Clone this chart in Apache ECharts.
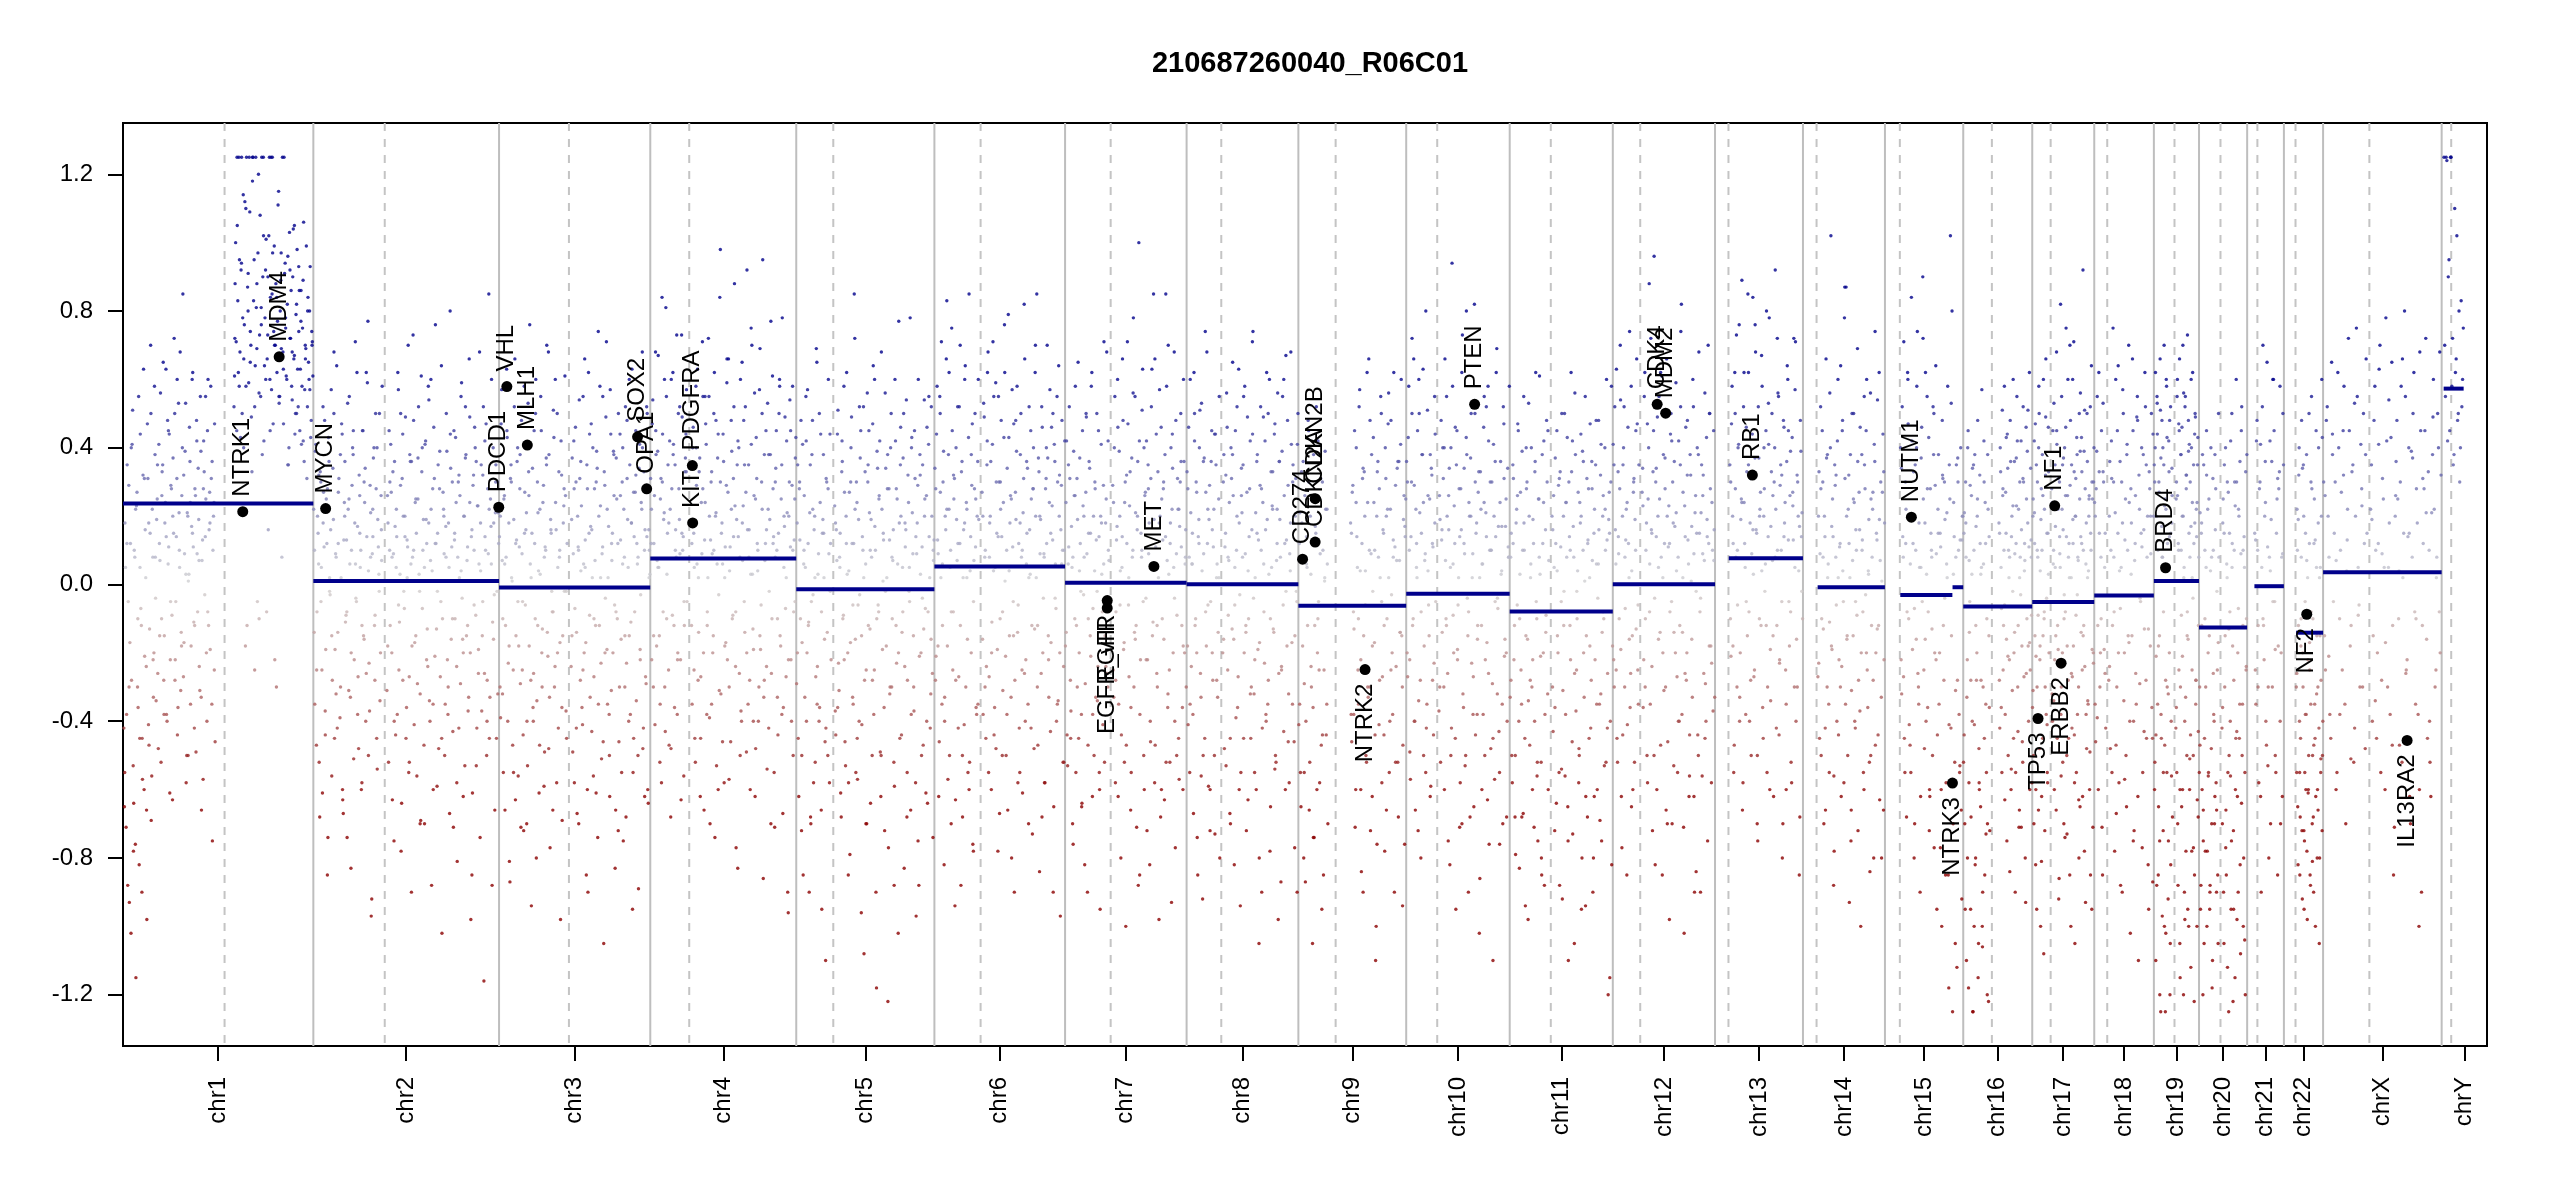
<!DOCTYPE html>
<html>
<head>
<meta charset="utf-8">
<title>210687260040_R06C01</title>
<script src="https://cdn.jsdelivr.net/npm/echarts@6.0.0/dist/echarts.min.js"></script>
<style>
html, body { margin: 0; padding: 0; background: #fff; }
#chart { width: 2550px; height: 1200px; }
</style>
</head>
<body>
<div id="chart"></div>
<script>
// chromosomes (hg19), lengths in Mb
const chromNames = ['chr1','chr2','chr3','chr4','chr5','chr6','chr7','chr8','chr9','chr10','chr11','chr12',
  'chr13','chr14','chr15','chr16','chr17','chr18','chr19','chr20','chr21','chr22','chrX','chrY'];
const chromLengths = [249.250621,243.199373,198.02243,191.154276,180.91526,171.115067,159.138663,146.364022,
  141.213431,135.534747,135.006516,133.851895,115.169878,107.34954,102.531392,90.354753,81.19521,78.077248,
  59.128983,63.02552,48.129895,51.304566,155.27056,59.373566];
// p/q split drawn as dashed line (Mb)
const centromeres = [133,93.5,91.5,51,48.5,60.5,59.7,45.4,48.8,40.6,53.8,35.9,17.6,17.8,19.5,37.5,24.1,17,27,28.1,13.4,15.2,60.6,12.5];

// bin log2 ratios, per chromosome arm (three interleaved runs, genomic order)
const r1p = [-.42,.18,-.71,.35,-.05,-.93,.12,-.28,.51,-.64,.08,-1.15,.27,-.36,-.82,.44,-.12,-.57,.63,-.21,.02,-.98,.31,-.47,.15,-.69,.22,-.33,.58,-.04,
  .19,-.26,.41,.07,-.52,.33,.65,-.15,.24,-.38,.48,.11,-.61,.29,-.09,.37,.72,-.22,.14,-.44,.53,.05,-.31,.26,.85,-.17,.39,-.58,.21,.01,
  .46,-.35,.17,.62,-.11,.28,-.49,.09,.34,-.24,.55,-.66,.13,.42,-.03,.25,-.4,.6,.16,-.19,.31,-.75,.2,.47];
const r1pB = [-.65,.05,-.38,-.88,.29,-.17,-1.02,.41,-.53,.1,-.76,.23,-.3,.55,-.45,-.07,-.9,.32,-.6,.16,-.24,.47,-.41,-.13,.7,-.56,.08,-.2,.38,-.34,
  .25,-.48,.12,.56,-.1,.35,-.28,.18,.63,-.4,.06,.44,-.22,.28,-.63,.15,.5,-.05,.31,-.36,.21,.68,-.14,.4,-.27,.09,.53,-.5,.2,.03,
  .36,-.18,.6,.11,-.42,.26,.48,-.08,.19,-.31,.39,.07,-.57,.33,.14,-.2,.45,-.12,.27,.58,-.35,.1,.24,-.46];
const r1pC = [-.55,.12,-.3,.4,-.78,.22,-.1,.05,-.45,.31,-.66,.18,.5,-.22,.08,.35,-.15,.26,-.38,.14,
  .45,-.05,.2,-.28,.6,.1,-.18,.32,.03,-.5,.24,.15,-.12,.42,.07,-.33,.28,.55,-.08,.18,.36,-.25];
const r1q = [.52,.88,.71,1.05,.62,.95,.43,1.25,.78,.66,1.12,.58,-.12,.91,1.25,.74,.49,1.18,.83,-.25,
  1.25,.69,.97,.56,1.08,.81,.38,1.25,.64,.92,-.08,.73,1.02,.6,1.25,.85,.47,.99,.7,-.3,
  .77,1.15,.55,.89,.08,.68,1.25,.94,.61,.82,.35,1.03,.72,.58,.9,.66,.44,.79,.98,.52,
  .86,.63,.41,.75,1.06,.57,.69,.31,.84,.6,.93,.48,.71];
const r1qB = [.61,1.0,.45,.83,1.25,.68,.92,.5,1.14,.76,-.18,1.25,.87,.59,1.09,.7,.33,1.25,.95,.64,
  .81,-.05,1.2,.73,.55,1.25,.9,.42,.78,1.01,.66,.16,1.25,.84,.57,.97,.74,-.22,.88,.62,
  1.11,.53,.8,.69,1.25,.47,.91,.75,.6,.96,.4,.72,.86,.54,1.04,.67,.5,.82,.63,.93,
  .45,.77,.58,.89,.36,.7,.99,.52,.65,.8,.43,.74,.61];
const r1qC = [.72,1.25,.58,.94,.4,1.1,.8,.65,1.25,.52,.88,-.1,.76,1.02,.6,.9,.45,1.25,.7,.84,
  .55,.97,.63,.78,.35,.92,.68,1.05,.5,.74,.86,.42,.66,.8,.57,.7];
const r2p = [.22,-.35,.41,-.08,.15,-.52,.33,.05,-.61,.27,.48,-.19,.12,-.74,.36,-.03,.57,-.28,.19,-.45,
  .09,.64,-.14,.31,-.39,.02,.44,-.67,.24,-.11,.13,.53,-.31,.06,-.83,.29,.38,-.22,.71,-.05,
  .17,-.48,.26,.1,-.58,.45,-.16,.34,-.26,.59,.04,-.37,.21,-.92,.14,.4,-.09,.28,-.54,.11,.5,-.2,.07];
const r2pB = [-.14,.39,-.47,.2,.06,-.68,.3,-.25,.52,.11,-.37,.25,-.85,.43,-.02,.16,-.56,.34,.68,-.19,
  .08,-.42,.27,.01,-.3,.47,-.63,.13,.36,-.09,-.74,.22,.55,-.33,.1,.4,-.51,.18,-.04,.62,
  -.27,.32,.05,-.6,.45,-.15,.24,-.4,.14,.77,-.23,.29,-.97,.09,.37,-.12,.5,-.45,.19,.03,-.34,.26,.58];
const r2pC = [.1,-.25,.32,-.05,.18,-.44,.28,.02,-.15,.5,-.32,.12,.38,-.6,.2,-.08,.25,-.2,.45,.06,
  -.38,.15,-.12,.3,.62,-.5,.08,.22,-.28,.4,-.02,.16];
const r2q = [-.31,.18,.45,-.12,.27,-.63,.09,.36,-.44,.14,.62,-.25,.03,-.78,.31,.2,-.07,.49,-.36,.11,
  -.55,.38,.06,-.18,.73,-.41,.24,.15,-.29,.52,-.02,-.69,.33,.1,-.47,.41,.19,-.13,.58,-.34,
  .07,-.88,.28,.46,-.21,.12,-.59,.35,.01,-.27,.64,-.1,.22,-.5,.17,.39,-.38,.05,.8,-.16,
  .3,-.71,.13,.43,-.24,.08,-.42,.26,.55,-.04,-.62,.2,.37,-.15,.11,-.33,.49,-.98,.16,.29,
  -.06,.4,-.53,.23,-.19,.68,.04,-.37,.32,-1.16,.14,.47,-.28,.09,-.45,.25,.6,-.11,.18,-.66,.35,-.02,.21];
const r2qB = [.26,-.52,.1,.41,-.2,.33,-.75,.17,.05,-.38,.57,-.11,.29,-.64,.44,-.02,.2,-.45,.13,.7,
  -.27,.36,-.9,.08,.48,-.17,.25,-.56,.37,.03,-.32,.61,-.07,.19,-.7,.42,.12,-.24,.54,-.4,
  .22,.04,-.6,.31,.76,-.13,.15,-.48,.39,-.05,-1.02,.27,.09,-.35,.5,-.22,.18,-.67,.34,.11,
  -.43,.45,-.1,.24,-.81,.3,.02,-.29,.59,-.16,.2,-.53,.38,.07,-.37,.66,-.2,.14,-.61,.32,
  .46,-.09,-.42,.23,.06,-.74,.35,-.15,.52,-.26,.1,-.5,.28,.85,-.33,.17,-.88,.4,-.03,.21,-.45,.3,.12];
const r2qC = [-.18,.3,.08,-.4,.22,-.06,.5,-.28,.14,.02,-.52,.36,.1,-.15,.25,-.7,.4,.05,-.22,.18,
  .6,-.35,.12,-.02,.28,-.45,.2,.08,-.3,.44,-.1,.15,-.58,.32,.04,-.2,.52,-.12,.24,-.85,
  .1,.36,-.26,.18,-.05,.42,-.4,.22,.06,-.16,.3,-.32];
const r3p = [.14,-.39,.57,-.1,.25,-.66,.08,.43,-.23,-.81,.31,.02,-.47,.19,.66,-.15,.36,-.56,.11,-.29,
  .48,-.05,-.72,.27,.16,-.4,.53,-.18,.06,-.94,.34,-.26,.12,.6,-.34,.21,-.61,.03,.45,-.13,
  .29,-.49,.1,.7,-.21,.38,-.77,.15,-.08,.51,-.3,.24,-.58,.05,.33,-.17,.42,-.69,.18,-.02,.26,-.45];
const r3pB = [-.3,.47,.07,-.55,.26,-.12,.63,-.4,.18,-.87,.35,.01,-.25,.52,-.63,.13,.4,-.18,.28,-.71,
  .09,-.44,.58,-.06,.21,-.53,.33,.76,-.28,.15,-.36,.45,-.1,-.8,.3,.04,-.47,.55,-.2,.24,
  -.59,.11,.37,-.14,.68,-.33,.19,-.02,-.66,.43,-.24,.16,.5,-.42,.08,-.98,.32,-.15,.23,.61,-.37,.12];
const r3pC = [.2,-.32,.06,.45,-.18,.3,-.55,.12,-.05,.38,-.25,.15,-.7,.26,.02,-.4,.5,-.12,.22,-.3,
  .08,.35,-.48,.16,-.08,.6,-.2,.1,-.36,.28,-.02];
const r3q = [-.24,.37,.09,-.58,.46,-.14,.2,-.7,.31,.04,-.36,.55,-.2,.13,-.85,.28,.62,-.09,.17,-.43,
  .4,-.27,.07,-.61,.34,.74,-.12,.23,-.51,.11,-1.05,.29,.49,-.19,.02,-.38,.57,-.31,.15,.39,
  -.06,-.66,.25,.12,-.46,.44,-.16,.3,-.75,.08,.52,-.23,.19,-.4,.35,-.11,.63,-.55,.14,.27,
  -.34,.06,-.89,.41,-.03,.22,-.48,.33,.16,-.29,.5,-.64,.1];
const r3qB = [.19,-.49,.42,-.07,.3,-.67,.11,.54,-.28,.23,-.41,.06,.66,-.17,.35,-.9,.15,-.33,.47,.02,
  -.56,.28,-.12,.39,-.74,.2,.58,-.23,.09,-.46,.33,-.04,.71,-.35,.17,-.62,.44,.07,-.2,.26,
  -.83,.37,-.1,.5,-.3,.13,-.55,.4,.22,-.15,-.68,.31,.05,.6,-.38,.18,-.95,.27,-.08,.45,
  .12,-.5,.34,-.19,.24,.68,-.42,.1,-.27,.52,-.6,.16,.03];
const r3qC = [-.15,.28,-.42,.1,.36,-.25,.05,-.6,.44,.16,-.1,.3,-.35,.02,.55,-.2,.22,-.5,.12,.38,
  -.08,-.72,.26,.06,-.3,.48,-.15,.18,-.45,.32,.08,-.22,.4,-.62,.14,.02];
const r4p = [.31,-.22,.54,.12,-.41,.38,.07,.67,-.15,.25,-.58,.44,.19,-.3,.81,.03,.35,-.47,.22,.6,
  -.09,.41,-.36,.16,.73,-.2,.28,.09,-.63,.49,.14,-.12,.37,.57];
const r4pB = [.12,.47,-.3,.26,.68,-.18,.39,.05,-.52,.31,.84,-.08,.21,-.43,.55,.15,-.25,.42,-.68,.28,
  .62,-.12,.35,.08,-.38,.5,.19,-.22,.73,.1,-.56,.33,.44,-.05];
const r4pC = [.22,-.15,.45,.05,-.35,.3,.6,-.1,.18,-.48,.38,.1,-.22,.52,.15,-.05,.33];
const r4q = [.18,-.35,.46,.05,-.52,.29,.63,-.14,.37,-.27,.09,.55,-.66,.24,.41,-.08,.72,-.39,.13,.33,
  -.2,.5,-.74,.21,.06,.44,-.31,.98,.15,-.46,.36,.02,-.17,.59,.27,-.57,.11,.48,-.1,.31,
  .88,-.24,.19,-.83,.4,.08,-.37,.65,.23,-.05,.52,-.49,.16,.35,-.28,.03,.7,-.13,.26,-.62,
  .43,.12,-.4,.57,-.19,.3,.95,-.33,.07,.45,-.54,.22,-.02,.38,-.26,.61,.14,-.71,.34,.1,
  -.44,.5,-.15,.25,.78,-.36,.17,-.07,.42,-.9,.2,.54,-.22,.29,-.5,.13,.37];
const r4qB = [-.12,.4,.15,-.45,.58,.06,-.28,.33,-.62,.24,.71,-.2,.13,.47,-.38,.02,.55,-.7,.3,.09,
  -.15,.62,.2,-.53,.37,-.03,.84,-.32,.18,.44,-.58,.11,.29,-.22,.66,.04,-.46,.39,-.09,.52,
  .23,-.77,.35,.14,-.26,.6,-.4,.07,.48,-.14,.27,.92,-.35,.16,-.6,.41,.03,-.19,.56,-.48,
  .31,.1,-.3,.69,-.06,.22,-.86,.38,.12,-.24,.53,-.42,.19,.77,-.1,.28,-.55,.08,.45,-.33,
  .15,.6,-.18,.35,-.67,.05,.49,-.27,.21,-.96,.3,.11,-.4,.58,-.08,.25,.43];
const r4qC = [.12,-.25,.4,.02,-.45,.28,.55,-.12,.2,-.35,.1,.48,-.6,.3,.06,-.18,.66,-.3,.22,.14,
  -.08,.42,-.5,.18,.35,-.2,.08,.75,-.4,.25,.04,-.15,.5,-.28,.16,.38,-.7,.12,.3,-.1,
  .58,-.38,.2,.02,-.22,.45,.1,-.05];
const r5p = [-.29,.35,-.62,.13,.48,-.17,-.85,.26,.05,-.4,.57,-.11,.21,-.7,.38,-.03,.16,-.52,.69,-.24,
  .09,-.36,.44,-.95,.19,.02,-.46,.31,-.14,.6,-.58,.12];
const r5pB = [.18,-.45,.28,-.1,-.72,.41,.06,-.33,.55,-.2,.12,-.9,.35,-.05,.48,-.58,.2,-.27,.65,.03,
  -.4,.24,-.66,.15,.38,-.16,-1.1,.3,-.5,.09,.44,-.22];
const r5pC = [-.2,.3,-.5,.1,.42,-.12,-.68,.22,.02,-.35,.5,-.08,.15,-.42,.28,-.02];
const r5q = [.23,-.44,.07,.51,-.31,.15,-.68,.36,-.09,.27,-.53,.62,-.2,.04,-.79,.4,.12,-.35,.85,-.16,
  .3,-.57,.19,-.03,.45,-.41,.1,-1.08,.33,-.25,.56,-.12,.21,-.64,.08,.47,-.38,.17,-.9,.39,
  -.06,.26,-.49,.68,-.19,.13,-.72,.34,.02,-1.22,.28,-.3,.5,-.1,.16,-.59,.42,-.23,.06,.77,
  -.45,.2,-.14,.37,-.83,.11,.54,-.28,.24,-.05,-.66,.43,.09,-.37,.31,-.97,.18,.6,-.21,.03,
  -.5,.35,-.13,.25,-.61,.46,-.08,.14,-.42,.52,-.26,.07];
const r5qB = [-.37,.16,.44,-.23,.08,-.61,.33,-.1,.58,-.46,.2,.03,-.85,.27,-.17,.49,-.33,.12,.72,-.55,
  .24,-.06,-.4,.37,-.96,.14,.52,-.28,.06,-.7,.3,.45,-.13,.19,-.5,.64,-.25,.1,-1.18,.34,
  -.08,.42,-.62,.22,.01,-.36,.56,-.18,.28,-.77,.13,.4,-.3,.07,-.52,.6,-.12,.25,-1.02,.18,
  .35,-.44,.05,.5,-.24,.16,-.68,.32,-.02,.78,-.38,.21,-.15,.45,-.58,.09,.29,-.88,.38,-.2,
  .11,-.47,.54,-.07,.26,-.64,.41,.02,-.32,.2,-.74,.13];
const r5qC = [.18,-.36,.05,.42,-.22,.12,-.58,.3,-.06,.22,-.45,.52,-.15,.02,-.7,.35,.1,-.28,.6,-.1,
  .25,-.5,.15,-.02,.38,-.32,.08,-.88,.28,-.2,.46,-.08,.18,-.55,.05,.4,-.3,.14,-.75,.32,
  -.04,.2,-.4,.55,-.16,.1];
const r6p = [.34,-.21,.58,.09,-.46,.27,.71,-.12,.39,-.33,.16,.83,-.57,.22,.05,-.7,.45,-.08,.31,-.63,
  .19,.52,-.27,.12,-.88,.36,.02,-.41,.64,.24,-.16,.43,-.52,.14,.29,-.76,.07,.5,-.36,.2,.6];
const r6pB = [-.28,.44,.13,-.62,.55,.02,-.35,.3,-.82,.2,.66,-.18,.38,-.5,.1,.75,-.25,.25,-.94,.4,
  .07,-.42,.52,-.12,.33,-.68,.16,.6,-.3,.22,-.55,.85,.04,-.2,.47,-.78,.28,.11,-.38,.36,.19];
const r6pC = [.28,-.18,.5,.06,-.4,.22,.62,-.08,.32,-.28,.12,.7,-.5,.18,.02,-.6,.38,-.05,.25,-.35];
const r6q = [.27,-.38,.49,.1,-.24,.62,-.55,.18,.36,-.11,.71,-.44,.05,.3,-.19,.55,-.67,.22,.14,-.31,
  .43,.01,-.5,.34,.79,-.15,.26,-.8,.11,.47,-.28,.19,.58,-.06,-.42,.38,.08,-.61,.31,.66,
  -.22,.15,-.35,.52,.03,.25,-.73,.4,-.13,.2,.85,-.47,.33,.09,-.26,.46,-.04,-.58,.28,.12,
  .37,-.33,.57,-.17,.23,-.9,.41,.06,-.4,.3,.64,-.2,.16,.48,-.52,.1];
const r6qB = [-.16,.53,.08,-.45,.35,.68,-.27,.2,-.6,.41,.04,-.36,.59,.15,-.78,.3,-.1,.48,-.5,.24,
  .76,-.21,.1,-.66,.43,.18,-.33,.57,-.05,-.9,.27,.39,-.14,.12,-.55,.5,-.25,.21,.82,-.4,
  .06,.34,-.7,.16,.45,-.12,.28,-.48,.62,.02,-.3,.37,-.84,.19,.52,-.2,.09,-.58,.31,.7,
  -.15,.24,-.43,.46,.13,-.65,.36,-.07,.55,-.34,.2,-.97,.29,.1,-.24,.42];
const r6qC = [.2,-.3,.42,.08,-.2,.55,-.48,.14,.3,-.08,.62,-.38,.04,.25,-.15,.48,-.58,.18,.1,-.26,
  .36,.02,-.42,.28,.7,-.12,.2,-.68,.08,.4,-.22,.15,.5,-.04,-.35,.32,.06,-.52];
const r7p = [-.18,.42,-.53,.11,.31,-.37,.05,-.76,.26,.58,-.12,.19,-.45,.37,-.02,-.64,.23,.08,-.29,.49,
  -.9,.15,.34,-.21,.62,-.07,-.5,.28,.13,-.34,.45,-.6,.2,.03,-.41,.71,-.15,.25,-.26,.1];
const r7pB = [.24,-.44,.06,.52,-.28,.17,-.7,.39,-.1,-.55,.31,.65,-.2,.12,-.38,.45,-.03,-.82,.27,.09,
  -.47,.36,-.15,.58,-.62,.2,.04,-.33,.5,-.24,.14,-.95,.41,-.08,.29,-.52,.18,.68,-.3,.07];
const r7pC = [-.14,.35,-.45,.08,.26,-.3,.04,-.65,.2,.5,-.1,.15,-.38,.3,-.02,-.55,.18,.06,-.24,.42];
const r7q = [.29,-.33,.55,-.08,.17,-.62,.39,.04,-.44,.66,-.19,.24,-1.0,.12,.47,-.27,.33,-.55,.08,.78,
  -.14,.21,-.71,.36,1.0,-.38,.15,.51,-.05,-.6,.27,.42,-.22,.09,-.82,.31,.63,-.11,.19,-.47,
  .44,-.3,.02,.57,-.68,.25,.13,-.16,.38,-.52,.07,.7,-.25,.18,-.93,.34,.05,-.4,.48,-.09,
  .22,-.57,.3,.11,-.36,.6,-.2,.16];
const r7qB = [-.25,.4,-.58,.13,.6,-.35,.2,-.8,.05,.48,-.17,.3,-.47,.71,-.06,.23,-.66,.37,.1,-.3,
  .55,-.12,.16,-.88,.42,-.22,.08,.63,-.5,.26,-.04,-.72,.35,.18,-.4,.52,-.15,.85,-.58,.11,
  -.26,.33,-.98,.2,.46,-.1,.28,-.63,.14,.58,-.36,.03,-.52,.4,.22,-.2,.68,-.77,.09,.31,
  -.45,.17,.5,-.12,-.6,.36,.06,-.3];
const r7qC = [.24,-.28,.46,-.06,.14,-.52,.32,.02,-.36,.56,-.16,.2,-.85,.1,.4,-.22,.28,-.46,.06,.66,
  -.12,.18,-.6,.3,.85,-.32,.12,.44,-.04,-.5,.22,.36,-.18,.08];
const r8p = [.33,-.41,.08,.6,-.24,.15,-.67,.42,-.1,.27,-.85,.19,.51,-.33,.04,-.5,.37,.74,-.18,.12,
  -.59,.29,-.05,.45,-.28,.22,-.73,.35,.06,-.14,.55];
const r8pB = [-.18,.46,-.55,.21,.06,-.38,.62,-.12,.3,-.74,.14,.4,-.26,.53,-.92,.09,-.45,.27,.68,-.06,
  .19,-.6,.36,-.2,.11,-.5,.44,.02,-.33,.25,-.8];
const r8pC = [.28,-.35,.06,.5,-.2,.12,-.56,.36,-.08,.22,-.72,.16,.44,-.28,.02];
const r8q = [-.2,.38,.11,-.53,.46,-.09,.24,-.7,.31,.65,-.16,.05,-.39,.52,-.27,.18,-.94,.34,.08,-.45,
  .58,-.12,.27,-.63,.14,.42,-.3,.71,-.04,-.55,.21,.36,-.19,-1.05,.29,.1,-.42,.49,-.23,.16,
  .62,-.35,.03,-.78,.33,.23,-.13,.44,-.5,.07,.56,-.26,.19,-.87,.39,-.06,.26,-.6,.13,.48,
  -.32,.09,.68,-.17,.35,-.46,.2,-.02,.41];
const r8qB = [.3,-.48,.15,.56,-.25,.07,-.67,.4,-.13,.26,-.82,.45,.1,-.36,.63,-.03,-.55,.21,.35,-.2,
  .09,-.72,.49,-.1,.28,-.45,.16,.74,-.32,.02,-.6,.38,.13,-.17,.52,-.9,.24,-.08,.42,-.4,
  .19,-.28,.6,-.65,.05,.33,-.14,.47,-.52,.22,-.98,.36,.08,-.24,.55,-.43,.12,.67,-.18,.29,
  -.58,.04,.41,-.35,.18,-.77,.31,-.05,.5];
const r8qC = [-.16,.32,.08,-.45,.38,-.06,.2,-.6,.26,.55,-.14,.04,-.32,.44,-.22,.15,-.8,.28,.06,-.38,
  .5,-.1,.22,-.54,.12,.36,-.25,.6,-.02,-.46,.18,.3,-.15,-.9];
const r9p = [-.41,.21,-.65,.08,.36,-.29,-.87,.14,-.12,.45,-.52,.03,.26,-.36,-.74,.17,.52,-.2,-.05,-.58,
  .31,-.95,.1,-.25,.39,-.44,.06];
const r9pB = [.12,-.55,.33,-.18,-.8,.26,-.4,.05,.48,-.66,.2,-.3,-1.05,.38,-.12,.15,-.6,.42,-.25,.09,
  -.47,.3,-.85,.01,.22,-.35,-.7];
const r9pC = [-.35,.18,-.55,.06,.3,-.24,-.74,.12,-.1,.38,-.44,.02,.22];
const r9q = [.18,-.46,.29,-.13,-.71,.4,.05,-.35,.57,-.22,.12,-.9,.33,-.06,-.52,.24,.66,-.3,.09,-.62,
  .43,-.17,-1.1,.2,.36,-.41,.02,.5,-.27,.15,-.78,.31,-.1,.47,-.55,.22,-.03,-.38,.62,.11,
  -.24,.34,-.68,.07,.41,-.15,-.47,.26,.14];
const r9qB = [-.38,.27,-.08,.45,-.6,.14,-.25,.52,.04,-.84,.31,-.15,.2,-.5,.62,-.33,.1,-.72,.38,-.02,
  .24,-.44,-1.0,.33,.08,-.28,.55,-.58,.16,-.12,.4,-.66,.22,.02,-.4,.48,-.2,.13,-.9,.29,
  .07,-.52,.36,-.14,.6,-.3,.19,-.76,.25];
const r9qC = [.15,-.38,.24,-.1,-.6,.34,.04,-.3,.48,-.18,.1,-.76,.28,-.05,-.44,.2,.56,-.25,.08,-.52,
  .36,-.14,-.94,.17];
const r10p = [.36,-.27,.58,-.49,.14,.72,-.1,.29,-.66,.05,.45,-.34,.21,-.8,.38,.63,-.18,.09,-.42,.51,
  -.06,.25,-.59,.32,.11,-.23,.44];
const r10pB = [-.2,.43,.1,-.57,.3,-.12,.66,-.4,.22,.02,-.72,.5,-.28,.15,.38,-.5,.07,.8,-.35,.26,
  -.15,-.62,.34,.12,-.44,.55,-.05];
const r10pC = [.3,-.22,.5,-.4,.12,.6,-.08,.24,-.55,.04,.38,-.28,.18];
const r10q = [-.37,.19,.48,-.14,.31,-.6,.07,.55,-.26,.16,-.82,.4,.94,-.09,.23,-.45,.35,-.19,.02,-.71,
  .28,.62,-.32,.12,-.53,.43,-.04,-.9,.2,.37,-.23,.09,-.65,.5,.15,-.38,.27,-1.02,.33,-.12,
  .06,.46,-.5,.21,-.17,.58,-.76,.3,.1,-.29,.41,-.57,.14,.69,-.07,-.43,.24,.03,-.35,.52,
  -.21,.17,-.68,.34,.08];
const r10qB = [.26,-.52,.13,.4,-.3,.66,-.1,.2,-.75,.34,.05,-.42,.58,-.2,.12,-.95,.45,-.06,.28,-.58,
  .16,.73,-.36,.09,-.5,.38,-.15,.24,-.68,.5,.02,-.27,.82,-.44,.18,-.12,.33,-.86,.22,.06,
  -.38,.55,-.22,.14,-.63,.42,.1,-.48,.3,-1.1,.2,-.05,.62,-.32,.17,-.55,.36,.04,-.7,.47,
  -.16,.25,-.4,.11,.58];
const r10qC = [-.3,.16,.4,-.12,.26,-.5,.06,.46,-.22,.14,-.7,.34,.8,-.08,.2,-.38,.3,-.16,.02,-.6,
  .24,.52,-.26,.1,-.45,.36,-.04,-.76,.17,.31,-.2,.08];
const r11p = [-.33,.15,-.58,.31,-.12,-.79,.22,.47,-.4,.03,-.25,.39,-.67,.1,-.94,.28,-.16,.53,-.47,.06,
  -.3,.19,-.71,.36,-.05,-.52,.25,.61,-.21,-.85,.12,.42,-.38,-.09,.3,-.6];
const r11pB = [.08,-.5,.35,-.22,-.68,.18,-.06,.45,-.83,.27,-.35,.1,.55,-.45,-.15,.3,-.98,.2,-.28,.4,
  -.6,.12,-.4,.62,-.1,-.75,.25,.03,-.52,.38,-.2,-.88,.16,.48,-.32,.07];
const r11pC = [-.28,.12,-.5,.26,-.1,-.68,.18,.4,-.34,.02,-.22,.33,-.56,.08,-.8,.24,-.14,.45];
const r11q = [.2,-.43,.05,.37,-.64,-.15,.29,-.88,.11,.5,-.31,-.02,-.56,.24,.43,-1.1,.14,-.22,.33,-.73,
  .08,.56,-.37,-.1,.27,-.5,.18,-.95,.39,-.2,.01,-.62,.31,.13,-.45,.47,-.28,.07,-.8,.22,
  .35,-.35,-.04,.16,-.69,.41,-.14,.26,-.53,.1,.6,-.26,.19,-1.15,.3,-.08];
const r11qB = [-.3,.26,-.72,.12,.45,-.2,-.55,.33,-.05,-.92,.2,.5,-.38,.08,-.65,.3,-.12,.62,-.46,.17,
  -1.05,.38,-.25,.04,-.58,.24,.44,-.8,.1,-.33,.55,-.15,-.68,.28,.02,-.42,.36,-.9,.15,-.22,
  .48,-.6,.06,-.35,.32,-.75,.2,-.1,.4,-.52,.13,-1.2,.27,-.4,.58,-.18];
const r11qC = [.16,-.36,.04,.31,-.54,-.12,.24,-.75,.1,.42,-.26,-.02,-.48,.2,.36,-.94,.12,-.18,.28,-.62,
  .06,.48,-.32,-.08,.22,-.42,.15,-.82];
const r12p = [.41,-.3,.16,.63,-.52,.09,.28,-.19,-.77,.35,.52,-.07,.22,-.41,.12,.74,-.26,.04,-.6,.31,
  .19,-.13,.47,-.35];
const r12pB = [-.22,.52,.06,-.45,.33,-.1,.7,-.62,.2,.4,-.3,.13,-.85,.46,.02,-.36,.58,-.15,.27,-.52,
  .1,.66,-.25,.35];
const r12pC = [.35,-.25,.14,.54,-.44,.08,.24,-.16,-.65,.3,.45,-.06];
const r12q = [.27,-.36,.55,-.1,.18,-.58,.4,.06,.72,-.24,.33,.96,-.82,.14,.49,-.16,.25,-.47,.61,.02,
  -.31,.37,-.66,.2,.11,-.98,.44,-.05,.3,-.53,.17,.59,-.27,.08,-.4,.35,.82,-.14,-.71,.23,
  .46,-.2,.13,-.62,.38,.01,-.33,.52,-.9,.26,.15,-.44,.68,-.08,.21,-.56,.32,.07,-.29,.43,
  -.75,.12,.5,-.18,.24,-.37,.16];
const r12qB = [.34,-.22,.62,.1,-.5,.25,.88,-.35,.16,-.72,.45,-.04,.3,-.6,.2,.55,-.14,.08,-.85,.38,
  .12,-.3,.66,-.46,.23,-.08,.5,-.7,.18,.36,-.2,.04,-.55,.42,-.12,.74,-.38,.27,-1.02,.14,
  -.28,.48,.06,-.44,.32,-.16,.6,-.62,.21,-.02,.4,-.5,.15,-.9,.35,.09,-.26,.56,-.4,.19,
  .7,-.18,.28,-.58,.1,.45,-.33];
const r12qC = [.23,-.3,.47,-.08,.15,-.5,.34,.05,.62,-.2,.28,-.7,.12,.42,-.14,.21,-.4,.52,.02,-.26,
  .32,-.56,.17,.09,-.84,.38,-.04,.26,-.45,.14,.5,-.23,.07];
const r13q = [.35,-.21,.58,.12,-.47,.28,.73,-.06,.41,-.33,.19,.89,-.58,.24,.05,.46,-.15,.62,-.4,.31,
  .09,.84,-.27,.37,.16,-.7,.52,-.1,.27,.67,-.36,.2,-.02,.45,-.55,.14,.78,-.19,.33,.07,
  -.62,.4,.22,-.12,.56,-.44,.29,.1,-.8,.48,.18,-.25,.36,.6,-.05,.26,-.52,.43,.13,-.3,
  .71,-.16,.3,.04,-.68,.39,.21];
const r13qB = [-.1,.47,.2,-.55,.62,.08,-.3,.4,.76,-.2,.25,-.66,.52,.12,-.38,.33,.85,-.08,.18,-.5,
  .44,.03,-.25,.68,.15,-.75,.37,.22,-.12,.58,-.45,.28,.06,.8,-.3,.41,-.6,.17,.5,-.15,
  .3,.92,-.42,.1,.55,-.22,.35,-.05,-.7,.46,.24,-.35,.64,.13,-.18,.39,-.58,.27,.72,.05,
  -.4,.32,.2,-.85,.48,.14,-.1];
const r13qC = [.3,-.18,.5,.1,-.4,.24,.62,-.05,.35,-.28,.16,.76,-.5,.2,.04,.4,-.12,.53,-.34,.26,
  .08,.72,-.23,.32,.14,-.6,.45,-.08,.23,.57,-.3,.17,-.02];
const r14q = [-.27,.33,.09,-.5,.45,-.13,.2,-.66,.37,.02,-.35,.56,1.02,-.19,.14,-.78,.29,-.06,.42,-.44,
  .11,.64,-.24,.04,-.58,.31,.87,-.15,.22,-.93,.38,-.31,.07,.5,-.4,.16,-.09,-.72,.27,.46,
  -.2,.13,-.55,.35,-.03,.6,-.36,.19,-.84,.25,.08,-.28,.41,-.47,.15,.54,-.12,-.63,.3,.01,.44,-.22];
const r14qB = [.2,-.45,.52,-.1,.3,-.7,.14,.66,-.3,.06,-.55,.4,-.18,.25,-.88,.35,.08,-.4,.6,-.22,
  .12,-.62,.45,-.05,.78,-.35,.2,-.5,.32,.02,-.75,.5,-.15,.24,-.42,.1,.69,-.28,.16,-1.0,
  .38,-.08,-.6,.28,.45,-.25,.04,-.52,.56,-.12,.22,-.8,.36,-.2,.13,-.44,.62,.07,-.33,.27,-.66,.18];
const r14qC = [-.23,.28,.08,-.42,.38,-.11,.17,-.56,.32,.02,-.3,.48,.87,-.16,.12,-.66,.25,-.05,.36,-.37,
  .1,.55,-.2,.03,-.5,.27,.74,-.13,.19,-.8,.33];
const r15q = [.4,-.32,.14,.71,-.55,.22,-.08,.47,-.41,.06,.84,-.19,.33,-.7,.1,.58,-.26,.18,-.9,.37,
  -.05,.25,-.48,.62,.03,-.36,.43,-.62,.15,-.13,.52,-.77,.29,.09,-.44,.38,-.2,.11,-1.0,.31,
  -.28,.19,-.58,.02,-.85,.35,1.02,-.15,-1.25,.24,-.52,.08,-1.12,.3,-.38,.13,-.66,.2];
const r15qB = [-.22,.52,.08,-.45,.3,-.68,.62,-.1,.2,-.55,.42,.12,-.8,.35,-.16,.74,-.3,.05,-.62,.46,
  .9,-.25,.18,-.4,.55,-.08,-.72,.28,.1,-.5,.38,-.2,.64,-.95,.22,-.35,.15,-.6,.48,-.12,
  .3,-.85,.06,.58,-1.18,.25,-.42,.8,-.7,.14,-1.05,.35,-.28,.1,-.55,.4,-.92,.2];
const r15qC = [.34,-.27,.12,.6,-.47,.19,-.07,.4,-.35,.05,.72,-.16,.28,-.6,.08,.5,-.22,.15,-.77,.32,
  -.04,.21,-.41,.53,.03,-.31,.37,-.53,.13];
const r16p = [-.52,.21,-.95,.08,-.33,.4,-1.18,-.14,.29,-.68,.03,-1.25,.35,-.41,-.82,.17,-.2,.48,-1.05,-.6,
  .12,-.28,.57,-.9,.06,-.45,.24,-.73,-.1,.38,-1.22,-.36];
const r16pB = [.15,-.7,.3,-1.1,-.22,.45,-.58,-.05,-.95,.26,-.4,-1.25,.1,.38,-.8,-.28,.2,-1.15,-.48,.32,
  -.65,.05,-1.0,-.3,.42,-.85,.12,-.55,-1.2,.22,-.15,-.72];
const r16pC = [-.44,.18,-.8,.07,-.28,.34,-1.0,-.12,.25,-.58,.03,-1.06,.3,-.35,-.7,.14];
const r16q = [.18,-.42,.33,-.07,.51,-.25,.1,-.63,.27,-.16,.44,-.5,.02,-.84,.36,.14,-.31,.6,-.2,.09,
  -.55,.23,.42,-.12,-.71,.3,-.03,.16,-.46,.52,-.27,.07,-.93,.25,.39,-.18,.11,-.6,.34,-.09];
const r16qB = [-.28,.4,.05,-.55,.26,-.12,.58,-.38,.15,-.75,.34,.1,-.22,.48,-.6,.2,-.02,-.45,.36,-.9,
  .12,.55,-.3,.22,-.66,.08,.42,-.18,-.52,.3,.04,-.8,.46,-.1,.18,-.4,.62,-.25,.13,-.58];
const r16qC = [.15,-.36,.28,-.06,.43,-.21,.08,-.54,.23,-.14,.37,-.43,.02,-.71,.31,.12,-.26,.51,-.17,.08];
const r17p = [-.36,.25,-.7,.12,.47,-.21,-.95,.3,-.09,.58,-.48,.04,.19,-.62,.38,-.15,-1.08,.22,-.3,.66,
  -.04,-.55,.15,.33];
const r17pB = [.2,-.5,.42,-.15,-.82,.35,-.3,.08,-.66,.5,-.22,-1.0,.28,.1,-.45,.6,-.1,-.72,.32,-.38,
  .15,-.58,.46,-.2];
const r17pC = [-.31,.21,-.6,.1,.4,-.18,-.81,.26,-.08,.49,-.41,.03];
const r17q = [.28,-.4,.06,.53,-.22,.17,-.66,.41,-.12,.31,-.86,.09,.82,-.3,.22,-.52,.37,-.03,-.74,.46,
  .14,-.18,.6,-.45,.02,.29,-1.0,.35,-.27,.12,.71,-.58,.2,-.09,.43,-.38,.07,-.8,.25,.56,
  -.14,.33,-.62,.1,.39,-.24,-.93,.18,.5,-.34,.04,.26,-.49,.15,.64,-.19,-.71,.3];
const r17qB = [-.32,.45,.1,-.6,.35,-.15,.68,-.45,.22,-.92,.3,.05,-.38,.55,-.2,.16,-.7,.4,-.08,.75,
  -.5,.26,-.28,.12,-.85,.48,.02,-.42,.6,-.18,.33,-1.05,.2,-.55,.38,.08,-.3,.5,-.65,.14,
  .43,-.25,.92,-.12,-.78,.28,.06,-.48,.36,-.35,.2,-.6,.52,.1,-.95,.25,-.2,.4];
const r17qC = [.24,-.34,.05,.45,-.19,.14,-.56,.35,-.1,.26,-.73,.08,.7,-.26,.19,-.44,.31,-.03,-.63,.39,
  .12,-.15,.51,-.38,.02,.25,-.85,.3,-.23];
const r18p = [.24,-.46,.39,-.12,.62,-.3,.08,-.71,.33,-.19,.15];
const r18pB = [-.35,.28,.55,-.6,.15,-.2,.45,-.85,.3,.05,-.42];
const r18pC = [.2,-.39,.33,-.1,.53,-.26];
const r18q = [-.28,.36,.1,-.55,.75,-.08,.21,-.67,.45,-.2,.04,-.88,.3,.57,-.34,.13,-.5,.41,-.15,.24,
  -1.02,.18,.66,-.4,.07,-.26,.49,-.62,.32,-.04,.15,-.77,.38,-.13,.52,-.45,.2,-.95,.28,.09,-.36,.44];
const r18qB = [.2,-.48,.42,-.12,.3,-.78,.6,-.3,.15,-.58,.36,.05,-.9,.5,-.2,.25,-.65,.1,.7,-.4,
  .28,-.15,.45,-.72,.12,-.35,.55,-1.1,.22,-.05,.4,-.55,.16,.62,-.28,.08,-.82,.33,-.18,.5,-.45,.2];
const r18qC = [-.24,.31,.08,-.47,.64,-.07,.18,-.57,.38,-.17,.03,-.75,.26,.48,-.29,.11,-.43,.35,-.13,.2,-.87];
const r19p = [.35,-.52,.62,-.21,-.88,.44,.1,-.65,.27,-1.2,.51,-.38,.17,-.97,.4,-.08,.7,-.47,-1.25,.22,
  .58,-.3,.05,-.75,.33,.48,-1.05,.15,-.56,.26];
const r19pB = [-.6,.4,-1.1,.2,.55,-.35,-.85,.3,-.15,.66,-1.25,-.45,.48,.08,-.72,.35,-1.0,.25,-.28,.6,
  -.55,.12,-.92,.42,-.2,-1.2,.52,-.4,.18,-.68];
const r19pC = [.3,-.44,.53,-.18,-.75,.37,.08,-.55,.23,-1.02,.43,-.32,.14,-.82,.34];
const r19q = [-.42,.3,.55,-.7,.12,-.25,.66,-1.15,.38,-.09,.46,-.6,.2,.02,-.9,.52,-.33,.28,-.5,.73,
  -.16,-1.0,.41,.08,-.44,.6,-.78,.24,-.04,.35,-1.22,.18,.49,-.28,.14,-.63,.43,-.12];
const r19qB = [.25,-.55,.6,-.88,.1,.45,-1.05,-.3,.38,-.65,.2,.7,-1.2,.05,-.4,.55,-.78,.32,-.15,-.95,
  .48,.15,-.6,.3,-1.12,.4,-.25,.62,-.5,.12,-.85,.5,-.35,.22,-1.0,.35,-.68,.08];
const r19qC = [-.36,.26,.47,-.6,.1,-.21,.56,-.98,.32,-.08,.39,-.51,.17,.02,-.77,.44,-.28,.24,-.43];
const r20p = [-.55,.21,-.88,-.12,.38,-.66,-1.05,.1,-.3,.45,-.78,-.2,.25,-.95,.04,-.48,-1.18,.31,-.38,-.7,
  .16,-.58,-.02,-.85,.5];
const r20pB = [-.3,-.95,.15,-.6,-1.2,.35,-.45,-.78,.05,-1.0,.22,-.55,-.15,-.88,.4,-.7,-1.1,.1,-.4,-.62,
  .28,-.9,-.25,-1.05,.08];
const r20pC = [-.47,.18,-.75,-.1,.32,-.56,-.9,.08,-.26,.38,-.66,-.17];
const r20q = [-.42,.18,-.9,.35,-.15,-.66,.06,-1.12,.27,-.5,-.08,.42,-.75,.12,-1.22,-.28,.3,-.6,.6,-.98,
  -.2,.22,-.45,-.82,.09,.52,-.35,-1.0,.14,-.55,.33,-.1];
const r20qB = [-.7,.25,-1.05,-.3,.4,-.85,.02,-.55,-1.25,.15,-.4,-.95,.5,-.18,-.72,.1,-1.15,-.45,.3,-.62,
  -.9,.2,-.35,-1.08,.45,-.5,-.12,-.8,.05,-1.2,-.25,.38];
const r20qC = [-.36,.15,-.77,.3,-.13,-.56,.05,-.95,.23,-.43,-.07,.36,-.64,.1,-1.04,-.24];
const r21q = [.15,-.35,.48,-.12,.28,-.62,.05,.7,-.22,.36,-.47,.11,-.8,.42,.19,-.3,.6,-.05,-.55,.25,
  -.18,.33,-.7,.08,.5];
const r21qB = [-.25,.42,.1,-.58,.3,-.9,.52,-.12,.2,-.4,.65,-.3,.08,-.7,.36,-.05,.45,-.5,.15,-.85,
  .28,.58,-.2,-.62,.35];
const r21qC = [.13,-.3,.41,-.1,.24,-.53,.04,.6,-.19,.31,-.4,.09];
const r22q = [-.3,.22,-.65,-.12,.4,-.85,-.45,.08,-.72,-.2,.35,-.95,-.55,.15,-.38,-.78,.02,-.6,.5,-.25,
  -.88,-.08,.28,-.5,-.68,.12,-.35,-1.0,.45,-.15,-.6,.18,-.42,-.8,.05,-.28,.6,-.5];
const r22qB = [-.55,.1,-.82,.32,-.4,-.68,-.18,.48,-.92,-.3,.2,-.75,-.05,-.6,.38,-.98,-.22,-.5,.12,-.85,
  -.35,.55,-.7,-.1,-.9,.25,-.45,-.62,.05,-.8,-.3,.4,-1.05,-.15,-.55,.2,-.72,-.4];
const r22qC = [-.26,.19,-.55,-.1,.34,-.72,-.38,.07,-.61,-.17,.3,-.81,-.47,.13,-.32,-.66,.02,-.51,.43];
const rXp = [.3,-.25,.52,.08,-.45,.38,.15,-.6,.62,-.1,.27,.45,-.35,.04,.72,-.18,.33,-.52,.2,.55,
  -.06,.41,-.3,.12,.66];
const rXpB = [-.15,.48,.2,-.38,.65,-.05,.3,-.55,.4,.1,-.25,.58,-.7,.22,.45,-.12,.35,-.42,.75,.05,
  -.3,.28,.5,-.48,.15];
const rXpC = [.26,-.21,.44,.07,-.38,.32,.13,-.51,.53,-.09,.23,.38];
const rXq = [.22,-.4,.48,.1,-.2,.63,-.55,.31,.05,.78,-.3,.18,.43,-.12,-.71,.36,.25,-.47,.58,.02,
  .8,-.25,.14,-.62,.39,.5,-.08,.28,-.38,.68,-.9,.12,.45,-.16,.33,-.52,.21,.6,-.3,.08,.4,-.2];
const rXqB = [.35,-.15,.58,-.45,.12,.7,-.28,.25,-.6,.42,.05,-.38,.65,-.85,.2,.48,-.1,.3,-.52,.15,
  .55,-.22,.4,-.7,.08,.62,-.35,.18,-1.0,.45,-.12,.28,.72,-.45,.1,-.62,.38,.22,-.25,.5,-.08,.32];
const rXqC = [.19,-.34,.41,.09,-.17,.54,-.47,.26,.04,.66,-.26,.15,.37,-.1,-.6,.31,.21,-.4,.49,.02,.68];
const rY = [1.25,.55,1.24,.9,.45,1.25,.72,.38,.62,1.02,.5,.3,.83,.6];
const rYB = [.7,1.25,.42,.95,1.25,.58,.35,1.1,.66,.48,.8,.4,.52,.75];
const rYC = [];

// arm coverage: [chromosome, first bin Mb, last bin Mb, run A, run B, run C]
const binArms = [
  ['chr1',0.8,121,r1p,r1pB,r1pC],['chr1',145,249,r1q,r1qB,r1qC],['chr2',0.1,90.5,r2p,r2pB,r2pC],['chr2',96,243,r2q,r2qB,r2qC],
  ['chr3',0.2,89.5,r3p,r3pB,r3pC],['chr3',94,197.9,r3q,r3qB,r3qC],['chr4',0.1,48.5,r4p,r4pB,r4pC],['chr4',53,191,r4q,r4qB,r4qC],
  ['chr5',0.1,46,r5p,r5pB,r5pC],['chr5',50,180.8,r5q,r5qB,r5qC],['chr6',0.3,58.5,r6p,r6pB,r6pC],['chr6',62,171,r6q,r6qB,r6qC],
  ['chr7',0.1,57.8,r7p,r7pB,r7pC],['chr7',62,159,r7q,r7qB,r7qC],['chr8',0.2,43.8,r8p,r8pB,r8pC],['chr8',47,146.2,r8q,r8qB,r8qC],
  ['chr9',0.2,39,r9p,r9pB,r9pC],['chr9',68,141,r9q,r9qB,r9qC],['chr10',0.1,39,r10p,r10pB,r10pC],['chr10',42.5,135.4,r10q,r10qB,r10qC],
  ['chr11',0.2,51.5,r11p,r11pB,r11pC],['chr11',55,135,r11q,r11qB,r11qC],['chr12',0.1,34.5,r12p,r12pB,r12pC],['chr12',38,133.8,r12q,r12qB,r12qC],
  ['chr13',19.1,115,r13q,r13qB,r13qC],['chr14',19.2,107.2,r14q,r14qB,r14qC],['chr15',20.1,102.4,r15q,r15qB,r15qC],
  ['chr16',0.1,35,r16p,r16pB,r16pC],['chr16',46.5,90.2,r16q,r16qB,r16qC],['chr17',0.1,22.2,r17p,r17pB,r17pC],['chr17',25.3,81.1,r17q,r17qB,r17qC],
  ['chr18',0.1,15.4,r18p,r18pB,r18pC],['chr18',18.6,78,r18q,r18qB,r18qC],['chr19',0.3,24.5,r19p,r19pB,r19pC],['chr19',28.6,59,r19q,r19qB,r19qC],
  ['chr20',0.1,26.3,r20p,r20pB,r20pC],['chr20',29.8,62.9,r20q,r20qB,r20qC],['chr21',9.5,48,r21q,r21qB,r21qC],['chr22',16,51.2,r22q,r22qB,r22qC],
  ['chrX',0.2,58.1,rXp,rXpB,rXpC],['chrX',61.7,155,rXq,rXqB,rXqC],['chrY',2.6,28.8,rY,rYB,rYC]
];

// segments
const segChrom = ['chr1','chr2','chr3','chr4','chr5','chr6','chr7','chr8','chr9','chr10','chr11','chr12',
  'chr13','chr14','chr15','chr15','chr16','chr17','chr18','chr19','chr20','chr21','chr22','chrX','chrY'];
const segStart = [0,0,0,0,0,0,0,0,0,0,0,0,18,19.2,20.1,88.5,0,0,0,0,0,9.5,16,0,2.6];
const segEnd = [249.25,243.2,198,191.15,180.9,171.1,159.1,146.35,141.2,135.5,135,133.85,
  115.15,107.3,88.3,102.5,90.35,81.2,78.05,59.1,63,48.1,51.3,155.25,28.8];
const segValue = [0.237,0.010,-0.009,0.076,-0.014,0.053,0.005,0.001,-0.062,-0.027,-0.079,0.001,
  0.077,-0.008,-0.031,-0.008,-0.064,-0.051,-0.032,0.010,-0.126,-0.005,-0.141,0.036,0.573];

// highlighted genes
const geneNames = ['NTRK1','MDM4','MYCN','PDCD1','VHL','MLH1','SOX2','OPA1','PDGFRA','KIT',
  'EGFR','EGFR_vIII','MET','CD274','CDKN2A','CDKN2B','NTRK2','PTEN','CDK4','MDM2','RB1',
  'NUTM1','NTRK3','TP53','NF1','ERBB2','BRD4','NF2','IL13RA2'];
const geneChrom = ['chr1','chr1','chr2','chr2','chr3','chr3','chr3','chr3','chr4','chr4',
  'chr7','chr7','chr7','chr9','chr9','chr9','chr9','chr10','chr12','chr12','chr13',
  'chr15','chr15','chr17','chr17','chr17','chr19','chr22','chrX'];
const genePos = [156.8,204.5,16.1,242.8,10.2,37.0,181.4,193.3,55.1,55.5,
  55.2,55.2,116.3,5.5,21.97,22.0,87.3,89.6,58.1,69.2,48.9,
  34.6,88.4,7.57,29.4,37.8,15.3,29.9,110.0];
const geneValue = [0.213,0.666,0.222,0.226,0.579,0.408,0.432,0.28,0.348,0.18,
  -0.047,-0.069,0.053,0.074,0.124,0.251,-0.249,0.527,0.527,0.501,0.32,
  0.197,-0.581,-0.392,0.23,-0.23,0.049,-0.087,-0.456];

const yTicks = [-1.2,-0.8,-0.4,0,0.4,0.8,1.2];
const yMin = -1.35, yMax = 1.35;
const sampleName = '210687260040_R06C01';

const FONT = '"Liberation Sans", Arial, Helvetica, sans-serif';

const chromStart = [];
let acc = 0;
chromLengths.forEach(l => { chromStart.push(acc); acc += l; });
const genomeLength = acc;
const chromCenters = chromStart.map((s, i) => s + chromLengths[i] / 2);
const offsetOf = name => chromStart[chromNames.indexOf(name)];

const clampCol = v => Math.max(-0.625, Math.min(0.625, v));
const binData = [];
binArms.forEach(([chrom, a, b, runA, runB, runC]) => {
  const off = offsetOf(chrom);
  [[runA, 0.25], [runB, 0.75], [runC, 0.5]].forEach(([vals, phase]) => {
    const n = vals.length;
    vals.forEach((v, i) => {
      binData.push([off + a + (i + phase) / n * (b - a), v, clampCol(v)]);
    });
  });
});

const segData = segChrom.map((c, i) => [offsetOf(c) + segStart[i], offsetOf(c) + segEnd[i], segValue[i]]);
const geneData = geneNames.map((g, i) => [offsetOf(geneChrom[i]) + genePos[i], geneValue[i]]);
const boundaryData = chromStart.slice(1).map(s => [s]);
const centroData = centromeres.map((c, i) => [chromStart[i] + c]);

function vline(dash, color, width) {
  return function (params, api) {
    const x = api.value(0);
    const p1 = api.coord([x, yMax]);
    const p2 = api.coord([x, yMin]);
    return {
      type: 'line',
      shape: { x1: p1[0], y1: p1[1], x2: p2[0], y2: p2[1] },
      style: { stroke: color, lineWidth: width, lineDash: dash }
    };
  };
}

const chart = echarts.init(document.getElementById('chart'), null, { renderer: 'canvas' });
chart.setOption({
  backgroundColor: '#fff',
  animation: false,
  textStyle: { fontFamily: FONT },
  title: {
    text: sampleName,
    left: 1305,
    top: 44,
    textAlign: 'center',
    textStyle: { fontFamily: FONT, fontSize: 29, fontWeight: 'bold', color: '#000' }
  },
  grid: { left: 123, right: 63, top: 123, bottom: 154, show: true, borderColor: '#000', borderWidth: 2, backgroundColor: 'transparent' },
  xAxis: {
    type: 'value', min: 0, max: genomeLength,
    axisLine: { show: true, onZero: false, lineStyle: { color: '#000', width: 2 } },
    axisTick: { show: true, length: 15, customValues: chromCenters, lineStyle: { color: '#000', width: 2 } },
    axisLabel: {
      show: true, rotate: 90, margin: 31, fontSize: 24, color: '#000', fontFamily: FONT,
      customValues: chromCenters,
      formatter: v => {
        let best = 0;
        chromCenters.forEach((c, i) => { if (Math.abs(c - v) < Math.abs(chromCenters[best] - v)) best = i; });
        return chromNames[best];
      }
    },
    splitLine: { show: false }
  },
  yAxis: {
    type: 'value', min: yMin, max: yMax,
    axisLine: { show: true, onZero: false, lineStyle: { color: '#000', width: 2 } },
    axisTick: { show: true, length: 15, customValues: yTicks, lineStyle: { color: '#000', width: 2 } },
    axisLabel: { show: true, margin: 30, fontSize: 24, color: '#000', fontFamily: FONT,
      customValues: yTicks, formatter: v => v.toFixed(1) },
    splitLine: { show: false }
  },
  visualMap: {
    show: false, type: 'continuous', seriesIndex: 2, dimension: 2,
    min: -0.625, max: 0.625,
    inRange: { color: ['#8B0000', '#D3D3D3', '#00008B'] }
  },
  series: [
    { type: 'custom', name: 'chromosomes', data: boundaryData, renderItem: vline(null, '#BEBEBE', 2), z: 1, silent: true },
    { type: 'custom', name: 'centromeres', data: centroData, renderItem: vline([8, 8], '#C4C4C4', 2), z: 1, silent: true },
    { type: 'scatter', name: 'bins', data: binData, symbol: 'circle', symbolSize: 3.4, z: 2, silent: true,
      encode: { x: 0, y: 1 } },
    { type: 'custom', name: 'segments', data: segData, z: 3, silent: true,
      encode: { x: [0, 1], y: 2 },
      renderItem: (params, api) => {
        const a = api.coord([api.value(0), api.value(2)]);
        const b = api.coord([api.value(1), api.value(2)]);
        return { type: 'line', shape: { x1: a[0], y1: a[1], x2: b[0], y2: b[1] },
          style: { stroke: '#00008B', lineWidth: 4 } };
      } },
    { type: 'custom', name: 'genes', data: geneData, z: 4, silent: true,
      encode: { x: 0, y: 1 },
      renderItem: (params, api) => {
        const v = api.value(1);
        const p = api.coord([api.value(0), v]);
        const up = v >= 0;
        return { type: 'group', children: [
          { type: 'circle', shape: { cx: p[0], cy: p[1], r: 5.5 }, style: { fill: '#000' } },
          { type: 'text', x: p[0], y: up ? p[1] - 15 : p[1] + 14, rotation: Math.PI / 2,
            style: { text: geneNames[params.dataIndex], fill: '#000', font: '24px ' + FONT,
              align: up ? 'left' : 'right', verticalAlign: 'middle' } }
        ] };
      } }
  ]
});
</script>
</body>
</html>
